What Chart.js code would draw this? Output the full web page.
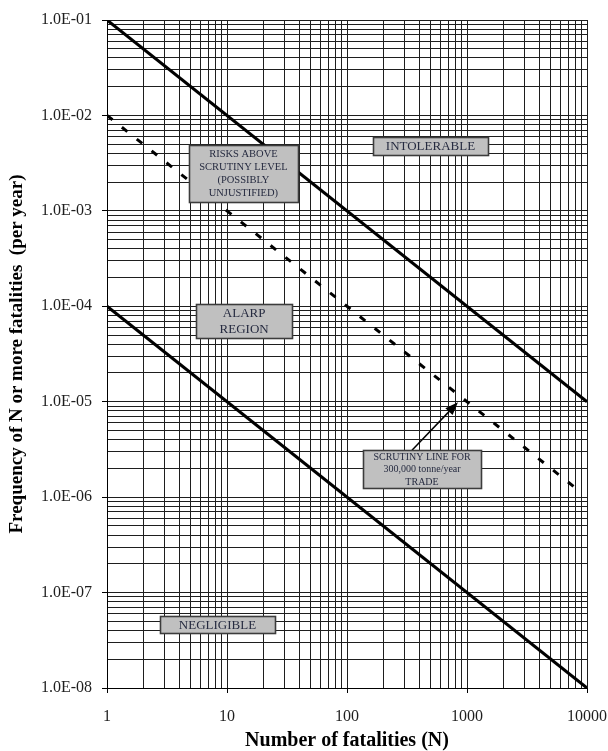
<!DOCTYPE html>
<html><head><meta charset="utf-8">
<script src="https://cdn.jsdelivr.net/npm/chart.js@4.4.1/dist/chart.umd.min.js"></script>
<style>html,body{margin:0;padding:0;background:#fff;} #wrap{width:608px;height:751px;position:relative;}</style>
</head><body><div id="wrap"><canvas id="c" width="608" height="751"></canvas></div>
<script>
// ---- data ----
const fatalitiesN = [1, 10000];
const intolerableLimit = [1e-1, 1e-5];
const negligibleLimit = [1e-4, 1e-8];
const scrutinyN = [1, 8700];
const scrutinyLimit = [1e-2, 1.15e-6];
const xDecades = [1, 10, 100, 1000, 10000];
const xTickLabels = ['1', '10', '100', '1000', '10000'];
const yDecades = [1e-8, 1e-7, 1e-6, 1e-5, 1e-4, 1e-3, 1e-2, 1e-1];
const yTickLabels = ['1.0E-08', '1.0E-07', '1.0E-06', '1.0E-05', '1.0E-04', '1.0E-03', '1.0E-02', '1.0E-01'];
const arrowTail = { x: 348, y: 3.1e-6 };
const arrowHead = { x: 841, y: 9.87e-6 };

// ---- annotation boxes (anchored at data coordinates) ----
const notes = [
  { lines: ['RISKS ABOVE', 'SCRUTINY LEVEL', '(POSSIBLY', 'UNJUSTIFIED)'], x: 13.7, y: 2.45e-3, w: 109, h: 57, size: 10.5, lh: 13 },
  { lines: ['INTOLERABLE'], x: 496, y: 4.77e-3, w: 115, h: 18, size: 13, lh: 15 },
  { lines: ['ALARP', 'REGION'], x: 13.9, y: 6.98e-5, w: 96, h: 34, size: 13, lh: 16 },
  { lines: ['SCRUTINY LINE FOR', '300,000 tonne/year', 'TRADE'], x: 422, y: 1.96e-6, w: 118, h: 38, size: 10, lh: 12.5 },
  { lines: ['NEGLIGIBLE'], x: 8.33, y: 4.58e-8, w: 115, h: 17, size: 13, lh: 15 }
];

function fullTicks(decades) {
  const out = [];
  for (let i = 0; i < decades.length - 1; i++) {
    for (let m = 1; m <= 9; m++) out.push(m * decades[i]);
  }
  out.push(decades[decades.length - 1]);
  return out;
}
function majorIndex(v, decades) {
  for (let i = 0; i < decades.length; i++) {
    if (Math.abs(v / decades[i] - 1) < 1e-6) return i;
  }
  return -1;
}
const SERIF = "'Liberation Serif', 'Times New Roman', serif";

const boxPlugin = {
  id: 'boxes',
  afterDatasetsDraw(chart) {
    const ctx = chart.ctx, xs = chart.scales.x, ys = chart.scales.y;
    ctx.save();
    // arrow
    const x1 = xs.getPixelForValue(arrowTail.x), y1 = ys.getPixelForValue(arrowTail.y);
    const x2 = xs.getPixelForValue(arrowHead.x), y2 = ys.getPixelForValue(arrowHead.y);
    const ang = Math.atan2(y2 - y1, x2 - x1);
    const hl = 13, hw = 5;
    ctx.strokeStyle = '#000'; ctx.fillStyle = '#000'; ctx.lineWidth = 1.5;
    ctx.beginPath(); ctx.moveTo(x1, y1);
    ctx.lineTo(x2 - hl * Math.cos(ang), y2 - hl * Math.sin(ang)); ctx.stroke();
    ctx.beginPath(); ctx.moveTo(x2, y2);
    ctx.lineTo(x2 - hl * Math.cos(ang) + hw * Math.sin(ang), y2 - hl * Math.sin(ang) - hw * Math.cos(ang));
    ctx.lineTo(x2 - hl * Math.cos(ang) - hw * Math.sin(ang), y2 - hl * Math.sin(ang) + hw * Math.cos(ang));
    ctx.closePath(); ctx.fill();
    // boxes
    notes.forEach(n => {
      const cx = xs.getPixelForValue(n.x), cy = ys.getPixelForValue(n.y);
      const l = Math.round(cx - n.w / 2) + 0.5, t = Math.round(cy - n.h / 2) + 0.5;
      ctx.fillStyle = '#c0c0c0';
      ctx.fillRect(l, t, n.w, n.h);
      ctx.strokeStyle = '#3c3c3c'; ctx.lineWidth = 1.6;
      ctx.strokeRect(l, t, n.w, n.h);
      ctx.fillStyle = '#262b40';
      ctx.font = n.size + 'px ' + SERIF;
      ctx.textAlign = 'center'; ctx.textBaseline = 'middle';
      const start = cy - (n.lines.length - 1) * n.lh / 2;
      n.lines.forEach((s, i) => ctx.fillText(s, cx, start + i * n.lh + 0.5));
    });
    ctx.restore();
  }
};

const tickCol = (ctx, decades) => {
  const v = ctx.tick ? ctx.tick.value : null;
  return (v !== null && majorIndex(v, decades) >= 0) ? '#000' : 'rgba(0,0,0,0)';
};

new Chart(document.getElementById('c'), {
  type: 'line',
  data: {
    datasets: [
      { label: 'Intolerable', data: fatalitiesN.map((n, i) => ({ x: n, y: intolerableLimit[i] })),
        borderColor: '#000', borderWidth: 3, pointRadius: 0, fill: false },
      { label: 'Scrutiny', data: scrutinyN.map((n, i) => ({ x: n, y: scrutinyLimit[i] })),
        borderColor: '#000', borderWidth: 3, borderDash: [7, 12], borderCapStyle: 'butt', pointRadius: 0, fill: false },
      { label: 'Negligible', data: fatalitiesN.map((n, i) => ({ x: n, y: negligibleLimit[i] })),
        borderColor: '#000', borderWidth: 3, pointRadius: 0, fill: false }
    ]
  },
  options: {
    responsive: false,
    animation: false,
    devicePixelRatio: 1,
    layout: { padding: { left: 0, right: 21, top: 20, bottom: 0 } },
    plugins: { legend: { display: false }, tooltip: { enabled: false }, title: { display: false } },
    scales: {
      x: {
        type: 'logarithmic', min: 1, max: 10000,
        afterBuildTicks: s => { s.ticks = fullTicks(xDecades).map(v => ({ value: v })); },
        afterFit: s => { s.height = 63; s.paddingRight = 0; s.paddingLeft = 0; },
        border: { display: true, color: '#000', width: 1 },
        grid: { color: '#1e1e1e', lineWidth: 1, drawTicks: true, tickLength: 5,
                tickColor: c => tickCol(c, xDecades) },
        ticks: {
          autoSkip: false, maxRotation: 0, padding: 14, color: '#1e1e1e',
          font: { family: SERIF, size: 16 },
          callback: v => { const i = majorIndex(v, xDecades); return i >= 0 ? xTickLabels[i] : ''; }
        },
        title: { display: true, text: 'Number of fatalities (N)', color: '#000',
                 font: { family: SERIF, size: 20, weight: 'bold', lineHeight: 1 }, padding: { top: 0, bottom: 0 } }
      },
      y: {
        type: 'logarithmic', min: 1e-8, max: 1e-1,
        afterBuildTicks: s => { s.ticks = fullTicks(yDecades).map(v => ({ value: v })); },
        afterFit: s => { s.width = 107; s.paddingTop = 0; s.paddingBottom = 0; },
        border: { display: true, color: '#000', width: 1 },
        grid: { color: '#1e1e1e', lineWidth: 1, drawTicks: true, tickLength: 5,
                tickColor: c => tickCol(c, yDecades) },
        ticks: {
          autoSkip: false, padding: 10, color: '#1e1e1e',
          font: { family: SERIF, size: 16 },
          callback: v => { const i = majorIndex(v, yDecades); return i >= 0 ? yTickLabels[i] : ''; }
        },
        title: { display: true, text: 'Frequency of N or more fatalities  (per year)', color: '#000',
                 font: { family: SERIF, size: 19, weight: 'bold', lineHeight: 1 }, padding: { top: 8, bottom: 0 } }
      }
    }
  },
  plugins: [boxPlugin]
});
</script>
</body></html>
